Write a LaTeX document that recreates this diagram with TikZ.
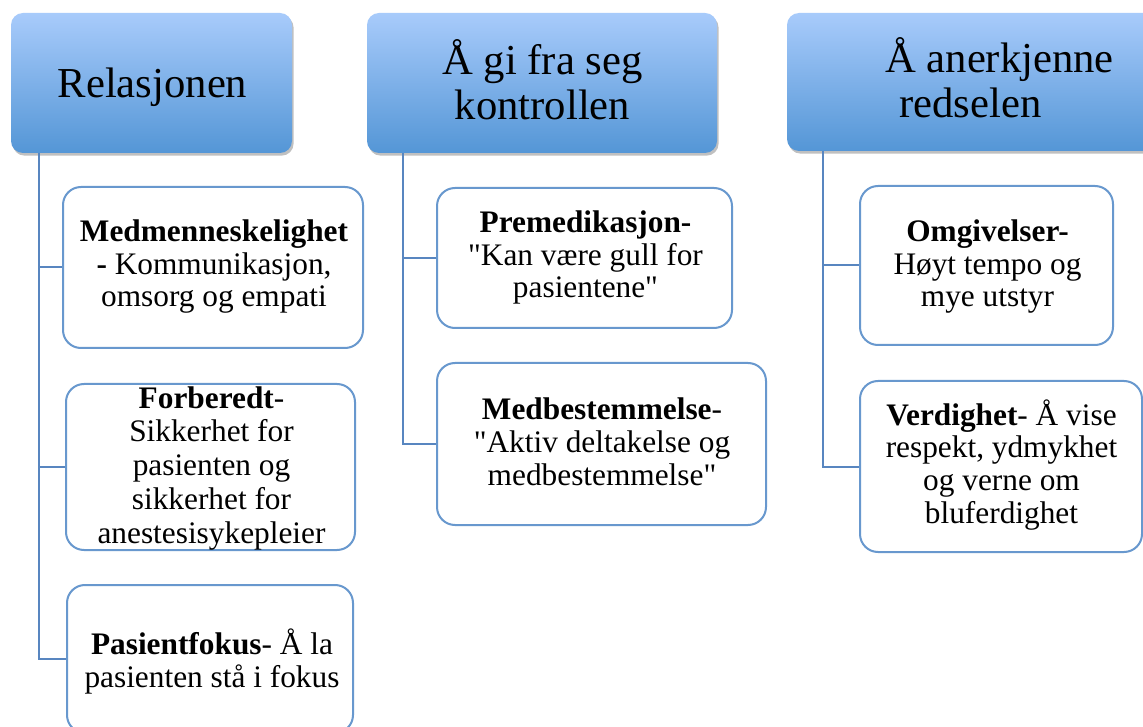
\documentclass[tikz,border=0pt]{standalone}
\usepackage{fontspec}
\setmainfont{Liberation Serif}[Ligatures=TeXOff]
\usetikzlibrary{shadows}
\definecolor{htop}{RGB}{168,203,251}
\definecolor{hbot}{RGB}{84,150,214}
\definecolor{edgeblue}{RGB}{104,152,206}
\definecolor{connblue}{RGB}{88,134,192}
\begin{document}
\begin{tikzpicture}[x=0.75pt,y=-0.75pt,
  sz/.style 2 args={minimum width=#1*0.75pt, minimum height=#2*0.75pt},
  header/.style={rounded corners=9pt, top color=htop, bottom color=hbot, draw=none,
    inner sep=0pt, drop shadow={shadow xshift=1.2pt, shadow yshift=-2pt, opacity=0.35, fill=black!70}},
  box/.style={draw=edgeblue, line width=1.5pt, fill=white, rounded corners=13.5pt, inner sep=0pt},
  link/.style={draw=connblue, line width=1.5pt},
  htext/.style={font=\fontsize{32}{33.75}\selectfont, align=center, inner sep=0pt, anchor=base},
  btext/.style={font=\fontsize{23.5}{24.4}\selectfont, align=center, inner sep=0pt, anchor=base}]
\useasboundingbox (0,0) rectangle (1143,727);
\clip (0,0) rectangle (1143,727);
\fill[white] (0,0) rectangle (1143,727);

% headers
\node[header, sz={281}{140}] (h1) at (151.5,83) {};
\node[header, sz={350}{140}] (h2) at (542,83) {};
\node[header, sz={370}{138}] (h3) at (972,82) {};

% boxes
\node[box, sz={300}{161}] (b11) at (213,267.5) {};
\node[box, sz={289}{166}] (b12) at (210.5,467) {};
\node[box, sz={286}{148}] (b13) at (210,659) {};
\node[box, sz={295}{140}] (b21) at (584.5,258) {};
\node[box, sz={329}{162}] (b22) at (601.5,444) {};
\node[box, sz={253}{159}] (b31) at (986.5,265.5) {};
\node[box, sz={282}{171}] (b32) at (1001,466.5) {};

% connectors
\draw[link] ([xshift=21pt]h1.south west) |- (b11.west);
\draw[link] ([xshift=21pt]h1.south west) |- (b12.west);
\draw[link] ([xshift=21pt]h1.south west) |- (b13.west);
\draw[link] ([xshift=27pt]h2.south west) |- (b21.west);
\draw[link] ([xshift=27pt]h2.south west) |- (b22.west);
\draw[link] ([xshift=27pt]h3.south west) |- (b31.west);
\draw[link] ([xshift=27pt]h3.south west) |- (b32.west);

% header texts (anchored at the baseline of the last line)
\node[htext] (t1) at (152.5,98) {Relasjonen};
\node[htext] (t2) at (542.5,120) {Å gi fra seg\\kontrollen};
\node[htext, anchor=base west, align=left] (t3) at (885,118) {Å anerkjenne\\\hspace*{10.5pt}redselen};

% box texts (anchored at the baseline of the last line)
\node[btext] (u11) at (214,307) {\textbf{Medmenneskelighet}\\\textbf{-} Kommunikasjon,\\omsorg og empati};
\node[btext, font=\fontsize{23.5}{25.3}\selectfont] (u12) at (211.5,543) {\textbf{Forberedt}-\\Sikkerhet for\\pasienten og\\sikkerhet for\\anestesisykepleier};
\node[btext] (u13) at (212,687) {\textbf{Pasientfokus}- Å la\\pasienten stå i fokus};
\node[btext] (u21) at (585.5,298) {\textbf{Premedikasjon-}\\"Kan være gull for\\pasientene"};
\node[btext] (u22) at (602,485) {\textbf{Medbestemmelse}-\\"Aktiv deltakelse og\\medbestemmelse"};
\node[btext] (u31) at (987.5,307) {\textbf{Omgivelser-}\\Høyt tempo og\\mye utstyr};
\node[btext] (u32) at (1001.5,523) {\textbf{Verdighet}- Å vise\\respekt, ydmykhet\\og verne om\\bluferdighet};
\end{tikzpicture}
\end{document}
